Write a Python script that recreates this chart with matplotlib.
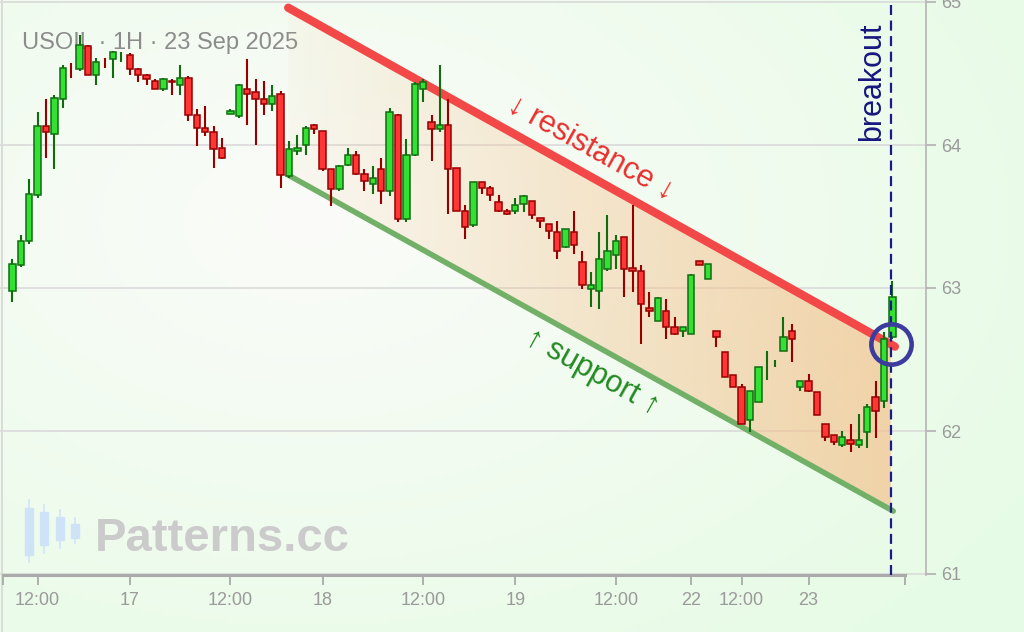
import matplotlib
matplotlib.use('Agg')
import matplotlib.pyplot as plt
import numpy as np
from matplotlib.patches import Polygon, Rectangle
from matplotlib.colors import to_rgb

plt.rcParams['font.family'] = ['Liberation Sans', 'DejaVu Sans']

# ---------------- data ----------------
opens = [62.98, 63.16, 63.33, 63.65, 64.13, 64.08, 64.32, 64.535, 64.53, 64.69,
         64.49, 64.585, 64.60, 64.62, 64.63, 64.53, 64.49, 64.45, 64.39, 64.45,
         64.42, 64.47, 64.21, 64.12, 64.09, 63.98, 64.22, 64.20, 64.39, 64.37,
         64.32, 64.29, 64.36, 63.78, 63.96, 64.00, 64.14, 64.10, 63.83, 63.69,
         63.86, 63.93, 63.80, 63.73, 63.83, 63.68, 64.21, 63.48, 63.93, 64.39,
         64.16, 64.11, 64.14, 63.84, 63.54, 63.44, 63.74, 63.70, 63.60, 63.54,
         63.54, 63.59, 63.61, 63.49, 63.45, 63.39, 63.29, 63.39, 63.18, 62.99,
         62.98, 63.13, 63.23, 63.36, 63.14, 63.12, 62.86, 62.77, 62.84, 62.73,
         62.70, 62.68, 63.19, 63.06, 62.70, 62.55, 62.39, 62.31, 62.08, 62.20,
         62.455, 62.475, 62.56, 62.70, 62.31, 62.35, 62.27, 62.05, 61.97, 61.90,
         61.94, 61.90, 61.99, 62.24, 62.21, 62.66]
closes = [63.17, 63.33, 63.66, 64.13, 64.09, 64.33, 64.54, 64.530, 64.70, 64.49,
          64.58, 64.580, 64.65, 64.625, 64.53, 64.49, 64.46, 64.39, 64.46, 64.44,
          64.47, 64.21, 64.12, 64.09, 63.97, 63.91, 64.24, 64.42, 64.36, 64.32,
          64.29, 64.34, 63.79, 63.97, 63.98, 64.12, 64.11, 63.83, 63.69, 63.85,
          63.93, 63.80, 63.75, 63.77, 63.68, 64.23, 63.48, 63.93, 64.43, 64.44,
          64.11, 64.14, 63.83, 63.54, 63.43, 63.74, 63.70, 63.65, 63.54, 63.52,
          63.58, 63.64, 63.51, 63.47, 63.40, 63.26, 63.41, 63.30, 63.02, 63.02,
          63.20, 63.26, 63.33, 63.13, 63.12, 62.89, 62.84, 62.93, 62.73, 62.68,
          62.73, 63.09, 63.16, 63.17, 62.66, 62.38, 62.31, 62.05, 62.28, 62.45,
          62.46, 62.48, 62.66, 62.64, 62.35, 62.28, 62.11, 61.96, 61.92, 61.96,
          61.91, 61.94, 62.17, 62.14, 62.64, 62.94]
highs = [63.20, 63.37, 63.76, 64.23, 64.32, 64.35, 64.56, 64.57, 64.77, 64.70,
         64.61, 64.61, 64.66, 64.65, 64.64, 64.54, 64.50, 64.46, 64.47, 64.46,
         64.56, 64.48, 64.25, 64.27, 64.13, 64.05, 64.25, 64.43, 64.60, 64.46,
         64.45, 64.42, 64.38, 64.03, 64.07, 64.13, 64.15, 64.10, 63.83, 63.86,
         63.98, 63.96, 63.83, 63.85, 63.91, 64.26, 64.22, 64.04, 64.44, 64.46,
         64.21, 64.56, 64.32, 63.84, 63.58, 63.74, 63.74, 63.71, 63.65, 63.55,
         63.63, 63.65, 63.61, 63.49, 63.45, 63.47, 63.41, 63.54, 63.26, 63.11,
         63.39, 63.51, 63.37, 63.36, 63.58, 63.16, 62.97, 62.94, 62.92, 62.80,
         62.73, 63.10, 63.19, 63.17, 62.70, 62.55, 62.39, 62.33, 62.28, 62.45,
         62.56, 62.50, 62.80, 62.75, 62.35, 62.40, 62.27, 62.05, 61.97, 62.00,
         62.05, 62.12, 62.19, 62.35, 62.69, 63.05]
lows = [62.90, 63.15, 63.31, 63.63, 63.91, 63.83, 64.26, 64.47, 64.52, 64.49,
        64.42, 64.54, 64.47, 64.58, 64.49, 64.44, 64.42, 64.39, 64.38, 64.35,
        64.35, 64.17, 63.99, 64.06, 63.84, 63.90, 64.22, 64.19, 64.14, 64.00,
        64.21, 64.24, 63.70, 63.77, 63.93, 63.93, 64.08, 63.82, 63.57, 63.68,
        63.85, 63.79, 63.68, 63.66, 63.59, 63.64, 63.46, 63.46, 63.92, 64.30,
        63.89, 64.09, 63.52, 63.54, 63.34, 63.43, 63.66, 63.61, 63.53, 63.51,
        63.52, 63.53, 63.48, 63.42, 63.34, 63.20, 63.28, 63.24, 62.99, 62.87,
        62.85, 63.12, 63.13, 62.94, 62.97, 62.61, 62.80, 62.77, 62.64, 62.67,
        62.66, 62.68, 63.16, 63.06, 62.59, 62.38, 62.31, 62.05, 61.99, 62.20,
        62.36, 62.45, 62.56, 62.48, 62.28, 62.27, 62.11, 61.93, 61.90, 61.89,
        61.85, 61.88, 61.88, 61.95, 62.16, 62.64]

tick_pos = [3, 14, 26, 37, 49, 60, 72, 81, 87, 95]
tick_labels = ['12:00', '17', '12:00', '18', '12:00', '19', '12:00', '22', '12:00', '23']
price_ticks = [61, 62, 63, 64, 65]

res_x = [32.9, 105.3]
res_y = [64.96, 62.59]
sup_x = [32.9, 105.1]
sup_y = [63.79, 61.44]
breakout_x = 104.8

title = 'USOIL · 1H · 23 Sep 2025'

# ---------------- figure ----------------
W, H = 1024, 632
fig = plt.figure(figsize=(W / 100, H / 100), dpi=100)

# background axes in pixel coordinates
bg = fig.add_axes([0, 0, 1, 1], zorder=-10)
bg.set_xlim(0, W)
bg.set_ylim(H, 0)
bg.axis('off')
yy, xx = np.mgrid[0:1:160j, 0:1:256j]
d = np.clip(np.sqrt(((xx - 0.3) / 0.85) ** 2 + ((yy - 0.35) / 0.9) ** 2), 0, 1)
c0 = np.array(to_rgb('#fbfcf9'))
c1 = np.array(to_rgb('#e6fbe5'))
img = c0[None, None, :] * (1 - d[..., None]) + c1[None, None, :] * d[..., None]
bg.imshow(img, extent=[0, W, H, 0], aspect='auto', zorder=0)
bg.plot([2, 2], [0, H], color='#d6d6d6', lw=1.2, zorder=1)

# watermark icon + text
icon_x = [29, 44, 60, 75]
icon_body = [(508, 555), (512, 545), (517, 540), (524, 538)]
icon_wick = [(500, 562), (505, 553), (510, 548), (518, 543)]
for xi, (b0, b1), (w0, w1) in zip(icon_x, icon_body, icon_wick):
    bg.plot([xi, xi], [w0, w1], color='#d3e6fa', lw=1.3, zorder=2)
    bg.add_patch(Rectangle((xi - 4, b0), 8, b1 - b0, color='#cfe3f8', zorder=3))
bg.text(95, 551, 'Patterns.cc', fontsize=34, fontweight='bold', color='#cbcbcb',
        ha='left', va='baseline', zorder=4)
bg.text(22, 49, title, fontsize=17, color='#8c8c8c', ha='left', va='baseline', zorder=4)

# main axes
px0, px1 = 0, 926
py_top, py_bot = 0, 575
step = 8.38
x_first = 12.5
ax = fig.add_axes([px0 / W, (H - py_bot) / H, (px1 - px0) / W, (py_bot - py_top) / H])
ax.patch.set_alpha(0)
ppu = 143.0
ax.set_ylim(61 - (py_bot - 574) / ppu, 65 + 2 / ppu)
ax.set_xlim((px0 - x_first) / step, (px1 - x_first) / step)

for s in ['top', 'left']:
    ax.spines[s].set_visible(False)
ax.spines['right'].set_color('#b5b5b5')
ax.spines['right'].set_linewidth(1.2)
ax.spines['bottom'].set_color('#aaaaaa')
ax.spines['bottom'].set_linewidth(2.2)
x_end_lo = (3 - x_first) / step
x_end_hi = (905 - x_first) / step
ax.spines['bottom'].set_bounds(x_end_lo, x_end_hi)

ax.yaxis.tick_right()
ax.set_yticks(price_ticks)
ax.set_yticklabels([str(p) for p in price_ticks])
ax.tick_params(axis='y', which='major', direction='out', length=7, width=1.2,
               color='#b0b0b0', labelcolor='#9a9a9a', labelsize=13, pad=4)
ax.set_xticks(tick_pos)
ax.set_xticklabels(tick_labels)
ax.set_xticks([x_end_lo, x_end_hi], minor=True)
ax.tick_params(axis='x', which='both', direction='out', length=7, width=1.3,
               color='#aaaaaa', labelcolor='#9a9a9a', labelsize=13, pad=5)
ax.grid(axis='y', color='#dadada', lw=1.2, zorder=0)
ax.set_axisbelow(True)

# channel fill with gradient
def res_at(x):
    return res_y[0] + (x - res_x[0]) * (res_y[1] - res_y[0]) / (res_x[1] - res_x[0])

def sup_at(x):
    return sup_y[0] + (x - sup_x[0]) * (sup_y[1] - sup_y[0]) / (sup_x[1] - sup_x[0])

poly = Polygon([(res_x[0], res_y[0]), (breakout_x, res_at(breakout_x)),
                (breakout_x, sup_at(breakout_x)), (sup_x[0], sup_y[0])],
               closed=True, facecolor='none', edgecolor='none')
ax.add_patch(poly)
n = 256
grad = np.zeros((1, n, 4))
grad[..., :3] = to_rgb('#f4c08a')
grad[0, :, 3] = np.linspace(0.07, 0.68, n)
im = ax.imshow(grad, extent=[res_x[0], breakout_x, sup_at(breakout_x), res_y[0]],
               aspect='auto', zorder=1, interpolation='bilinear')
im.set_clip_path(poly)

ax.plot(res_x, res_y, color='#f24848', lw=6, solid_capstyle='round', zorder=2)
ax.plot(sup_x, sup_y, color='#72b068', lw=4, solid_capstyle='round', zorder=2)

# candles
o = np.array(opens)
c = np.array(closes)
h = np.array(highs)
l = np.array(lows)
idx = np.arange(len(o))
up = c >= o
g_face, g_edge = '#35e035', '#0e6e0e'
r_face, r_edge = '#ff3636', '#980000'
ax.vlines(idx[up], l[up], h[up], color=g_edge, lw=1.5, zorder=4)
ax.vlines(idx[~up], l[~up], h[~up], color=r_edge, lw=1.5, zorder=4)
heights = np.abs(c - o)
body = heights > 0.006
bottoms = np.minimum(o, c)
ax.bar(idx[body], heights[body], bottom=bottoms[body], width=0.76,
       color=np.where(up[body], g_face, r_face),
       edgecolor=np.where(up[body], g_edge, r_edge), linewidth=1.1, zorder=5)

# breakout markers
ax.axvline(breakout_x, color='#1a1a8a', lw=1.6, ls=(0, (4.5, 2.5)), zorder=7)
ax.plot([breakout_x], [res_at(breakout_x)], 'o', ms=29, mfc='none', mec='#3c3c9e',
        mew=3.3, zorder=8)

# annotations
ang = 29.1
fig.text(591 / W, 1 - 148 / H, '↓ resistance ↓', color='#e8302e', fontsize=22,
         rotation=-ang, rotation_mode='anchor', ha='center', va='center')
fig.text(592 / W, 1 - 372 / H, '↑ support ↑', color='#238a23', fontsize=22,
         rotation=-ang, rotation_mode='anchor', ha='center', va='center')
fig.text(872 / W, 1 - 82 / H, 'breakout', color='#16167f', fontsize=22,
         rotation=90, ha='center', va='center')

fig.savefig('out.png', dpi=100)
